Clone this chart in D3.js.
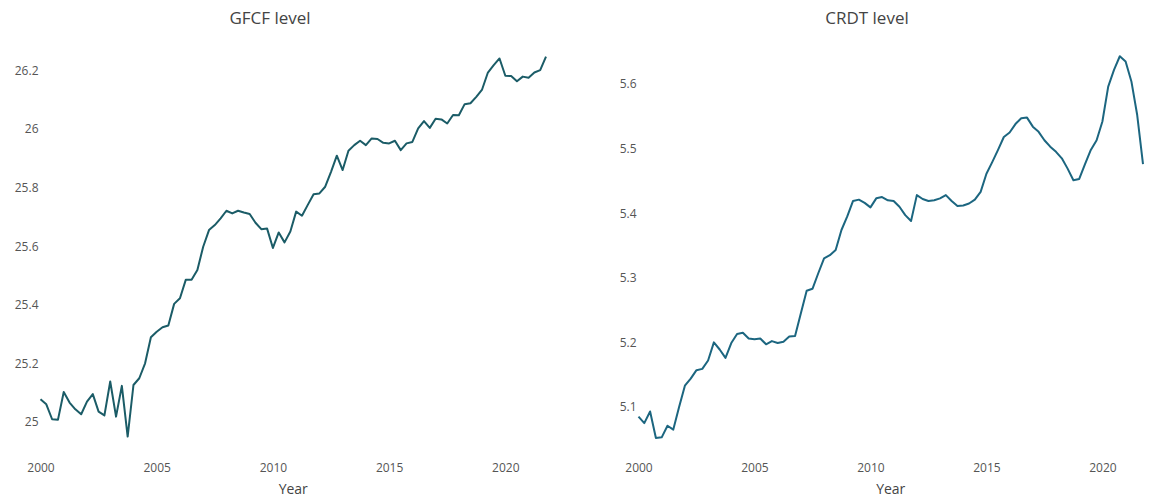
<!DOCTYPE html>
<html>
<head>
<meta charset="utf-8">
<script src="https://cdn.jsdelivr.net/npm/d3@7"></script>
<style>
  body { margin: 0; background: #fff; }
  svg { display: block; }
  text { font-family: "Open Sans", "DejaVu Sans", sans-serif; }
</style>
</head>
<body>
<svg id="chart" width="1150" height="498"></svg>
<script>
const quarters = [
  "2000Q1","2000Q2","2000Q3","2000Q4","2001Q1","2001Q2","2001Q3","2001Q4",
  "2002Q1","2002Q2","2002Q3","2002Q4","2003Q1","2003Q2","2003Q3","2003Q4",
  "2004Q1","2004Q2","2004Q3","2004Q4","2005Q1","2005Q2","2005Q3","2005Q4",
  "2006Q1","2006Q2","2006Q3","2006Q4","2007Q1","2007Q2","2007Q3","2007Q4",
  "2008Q1","2008Q2","2008Q3","2008Q4","2009Q1","2009Q2","2009Q3","2009Q4",
  "2010Q1","2010Q2","2010Q3","2010Q4","2011Q1","2011Q2","2011Q3","2011Q4",
  "2012Q1","2012Q2","2012Q3","2012Q4","2013Q1","2013Q2","2013Q3","2013Q4",
  "2014Q1","2014Q2","2014Q3","2014Q4","2015Q1","2015Q2","2015Q3","2015Q4",
  "2016Q1","2016Q2","2016Q3","2016Q4","2017Q1","2017Q2","2017Q3","2017Q4",
  "2018Q1","2018Q2","2018Q3","2018Q4","2019Q1","2019Q2","2019Q3","2019Q4",
  "2020Q1","2020Q2","2020Q3","2020Q4","2021Q1","2021Q2","2021Q3","2021Q4"
];

const gfcfLevel = [
  25.077, 25.060, 25.009, 25.007, 25.102, 25.066, 25.043, 25.026,
  25.069, 25.095, 25.035, 25.022, 25.138, 25.018, 25.123, 24.950,
  25.126, 25.149, 25.200, 25.289, 25.308, 25.323, 25.329, 25.403,
  25.422, 25.485, 25.485, 25.519, 25.598, 25.655, 25.672, 25.695,
  25.721, 25.712, 25.721, 25.715, 25.710, 25.680, 25.658, 25.660,
  25.594, 25.647, 25.613, 25.650, 25.718, 25.704, 25.741, 25.777,
  25.780, 25.803, 25.854, 25.909, 25.860, 25.926, 25.945, 25.960,
  25.945, 25.968, 25.966, 25.953, 25.951, 25.960, 25.928, 25.951,
  25.956, 26.002, 26.027, 26.004, 26.035, 26.033, 26.019, 26.048,
  26.047, 26.085, 26.088, 26.110, 26.135, 26.193, 26.218, 26.241,
  26.182, 26.181, 26.163, 26.179, 26.175, 26.193, 26.201, 26.247
];

const crdtLevel = [
  5.085, 5.075, 5.093, 5.052, 5.053, 5.071, 5.065, 5.100,
  5.133, 5.144, 5.157, 5.159, 5.172, 5.200, 5.189, 5.176,
  5.199, 5.213, 5.215, 5.206, 5.205, 5.206, 5.197, 5.202,
  5.199, 5.201, 5.209, 5.210, 5.245, 5.280, 5.283, 5.307,
  5.330, 5.335, 5.343, 5.374, 5.395, 5.419, 5.421, 5.416,
  5.409, 5.423, 5.425, 5.420, 5.419, 5.410, 5.397, 5.388,
  5.428, 5.422, 5.419, 5.420, 5.423, 5.428, 5.419, 5.411,
  5.412, 5.415, 5.421, 5.433, 5.461, 5.479, 5.498, 5.518,
  5.525, 5.538, 5.547, 5.548, 5.534, 5.526, 5.513, 5.503,
  5.495, 5.485, 5.469, 5.451, 5.453, 5.476, 5.498, 5.513,
  5.542, 5.596, 5.622, 5.643, 5.635, 5.604, 5.552, 5.476
];

const xTicks = [2000, 2005, 2010, 2015, 2020];
const gfcfTicks = [25, 25.2, 25.4, 25.6, 25.8, 26, 26.2];
const crdtTicks = [5.1, 5.2, 5.3, 5.4, 5.5, 5.6];
const titles = ["GFCF level", "CRDT level"];
const xTitle = "Year";

function quarterToYear(q) {
  return +q.slice(0, 4) + (+q.slice(5) - 1) / 4;
}

const svg = d3.select("#chart");

const panels = [
  { title: titles[0], values: gfcfLevel, ticks: gfcfTicks, yRange: [24.904, 26.287],
    x0: 40.5, x1: 546, color: "#1b5c67", titleX: 270 },
  { title: titles[1], values: crdtLevel, ticks: crdtTicks, yRange: [5.0334, 5.6604],
    x0: 638.5, x1: 1143, color: "#1c6680", titleX: 867 }
];

const plotTop = 45, plotBottom = 450;

panels.forEach(p => {
  const x = d3.scaleLinear().domain([2000, 2021.75]).range([p.x0, p.x1]);
  const y = d3.scaleLinear().domain(p.yRange).range([plotBottom, plotTop]);
  const g = svg.append("g");

  g.append("text")
    .attr("x", p.titleX).attr("y", 24)
    .attr("text-anchor", "middle")
    .attr("font-size", 17).attr("fill", "#444")
    .text(p.title);

  const xAxis = d3.axisBottom(x).tickValues(xTicks).tickFormat(d3.format("d")).tickSize(0).tickPadding(0);
  const xa = g.append("g").attr("transform", `translate(0,${plotBottom})`).call(xAxis);
  xa.select(".domain").remove();
  xa.selectAll("text").attr("dy", "22px").attr("font-size", 12).attr("fill", "#555")
    .attr("font-family", '"Open Sans", "DejaVu Sans", sans-serif');

  const yAxis = d3.axisLeft(y).tickValues(p.ticks).tickFormat(d => String(+d.toFixed(2))).tickSize(0).tickPadding(0);
  const ya = g.append("g").attr("transform", `translate(${p.x0 - 2},0)`).call(yAxis);
  ya.select(".domain").remove();
  ya.selectAll("text").attr("font-size", 12).attr("fill", "#555")
    .attr("font-family", '"Open Sans", "DejaVu Sans", sans-serif');

  g.append("text")
    .attr("x", (p.x0 + p.x1) / 2).attr("y", 494)
    .attr("text-anchor", "middle")
    .attr("font-size", 14).attr("fill", "#444")
    .text(xTitle);

  const line = d3.line()
    .x((d, i) => x(quarterToYear(quarters[i])))
    .y(d => y(d));
  g.append("path")
    .datum(p.values)
    .attr("fill", "none")
    .attr("stroke", p.color)
    .attr("stroke-width", 2)
    .attr("stroke-linejoin", "round")
    .attr("d", line);
});
</script>
</body>
</html>
